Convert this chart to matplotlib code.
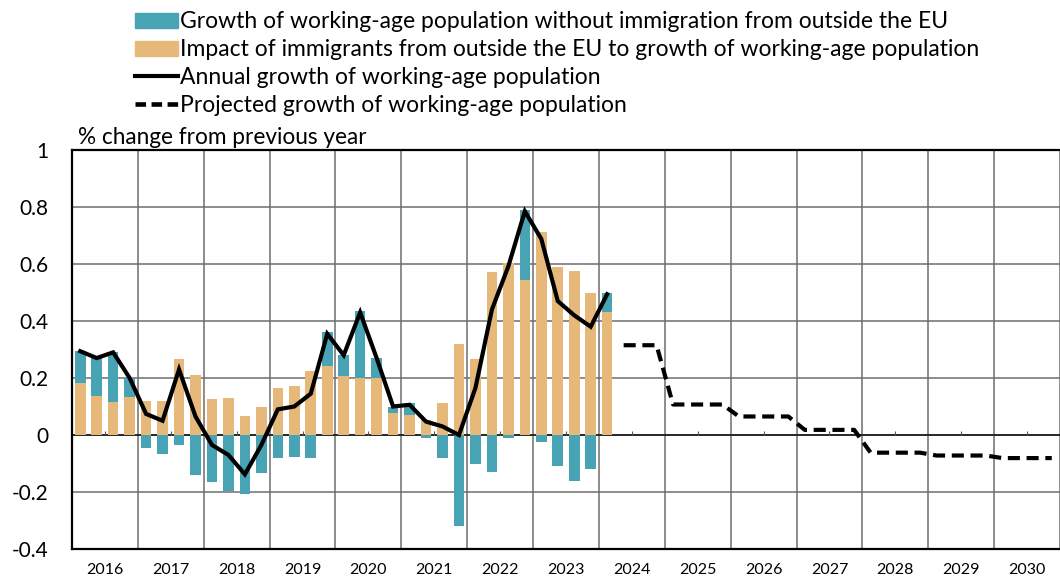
import numpy as np
import matplotlib.pyplot as plt
from matplotlib.patches import Patch
from matplotlib.lines import Line2D

plt.rcParams['font.family'] = ['Lato', 'DejaVu Sans']

# donnees (trimestres 2016T1 -> 2024T1)
years = [str(y) for y in range(2016, 2031)]
teal = [0.112, 0.132, 0.175, 0.065,
        -0.044, -0.068, -0.035, -0.141,
        -0.165, -0.198, -0.208, -0.135,
        -0.079, -0.076, -0.079, 0.12,
        0.073, 0.235, 0.07, 0.024,
        0.042, -0.01, -0.082, -0.32,
        -0.1, -0.13, -0.012, 0.245,
        -0.024, -0.108, -0.161, -0.12,
        0.068]
orange = [0.182, 0.138, 0.115, 0.135,
          0.118, 0.118, 0.265, 0.21,
          0.127, 0.13, 0.067, 0.1,
          0.165, 0.173, 0.224, 0.241,
          0.207, 0.2, 0.2, 0.076,
          0.07, 0.053, 0.112, 0.32,
          0.265, 0.573, 0.603, 0.543,
          0.712, 0.588, 0.576, 0.5,
          0.432]
growth = [0.294, 0.27, 0.29, 0.2,
          0.074, 0.05, 0.23, 0.065,
          -0.035, -0.07, -0.138, -0.035,
          0.09, 0.1, 0.145, 0.355,
          0.28, 0.43, 0.27, 0.1,
          0.106, 0.047, 0.03, 0.0,
          0.165, 0.44, 0.592, 0.785,
          0.688, 0.47, 0.42, 0.38,
          0.494]
# projection 2024T2 -> 2030T4
projected = [0.315, 0.315, 0.315,
             0.107, 0.107, 0.107, 0.107,
             0.065, 0.065, 0.065, 0.065,
             0.018, 0.018, 0.018, 0.018,
             -0.062, -0.062, -0.062, -0.062,
             -0.072, -0.072, -0.072, -0.072,
             -0.081, -0.081, -0.081, -0.081]

labels = ['Growth of working-age population without immigration from outside the EU',
          'Impact of immigrants from outside the EU to growth of working-age population',
          'Annual growth of working-age population',
          'Projected growth of working-age population']

cTeal = '#48a3b5'
cOrange = '#e6b97b'
cGrid = '#6e6e6e'

W, H = 1060, 580
fig = plt.figure(figsize=(W / 100, H / 100), dpi=100)
ax = fig.add_axes([72 / W, 31 / H, (W - 72) / W, 399 / H])

x = np.arange(len(teal))
xp = np.arange(len(teal), len(teal) + len(projected))
t = np.array(teal)
o = np.array(orange)

ax.bar(x, o, width=0.64, color=cOrange, zorder=2)
ax.bar(x, t, width=0.64, bottom=np.where(t > 0, o, 0), color=cTeal, zorder=2)
ax.plot(x, growth, color='black', lw=3, zorder=4, solid_joinstyle='miter')
ax.plot(xp, projected, color='black', lw=3, dashes=(2.9, 1.6), zorder=4)
ax.axhline(0, color='#222222', lw=1.3, zorder=1)
# petits traits sur l'axe zero
ax.plot(np.arange(1.5, 60, 4), np.zeros(15), ls='none', marker=2, ms=3,
        color='#555555', mew=0.8, zorder=1)

ax.set_xlim(-0.5, -0.5 + (W - 72) / (66.67 / 4))
ax.set_ylim(-0.4, 1.0)
ax.set_yticks(np.arange(-0.4, 1.01, 0.2))
ax.set_yticklabels(['-0.4', '-0.2', '0', '0.2', '0.4', '0.6', '0.8', '1'])
ax.set_xticks(np.arange(1.5, 60, 4))
ax.set_xticklabels(years)
ax.set_xticks(np.arange(-0.5, 60, 4), minor=True)
ax.tick_params(axis='both', which='both', length=0)
ax.tick_params(axis='y', pad=17, labelsize=15)
ax.tick_params(axis='x', pad=10, labelsize=11.5)
ax.grid(axis='y', which='major', color=cGrid, lw=1.1)
ax.grid(axis='x', which='minor', color=cGrid, lw=1.1)
ax.set_axisbelow(True)
for s in ['left', 'top', 'bottom']:
    ax.spines[s].set_linewidth(1.6)
ax.spines['right'].set_visible(False)

fig.text(78 / W, 1 - 137 / H, '% change from previous year', fontsize=16.3, va='center')

handles = [Patch(color=cTeal), Patch(color=cOrange),
           Line2D([], [], color='black', lw=3),
           Line2D([], [], color='black', lw=3.3, dashes=(2.3, 1.2))]
fig.legend(handles, labels, loc='upper left', bbox_to_anchor=(124 / W, 1.0),
           frameon=False, fontsize=16.5, handlelength=1.85, handleheight=0.65,
           handletextpad=0.1, labelspacing=0.3, borderaxespad=0.1)

fig.savefig('out.png', dpi=100)
